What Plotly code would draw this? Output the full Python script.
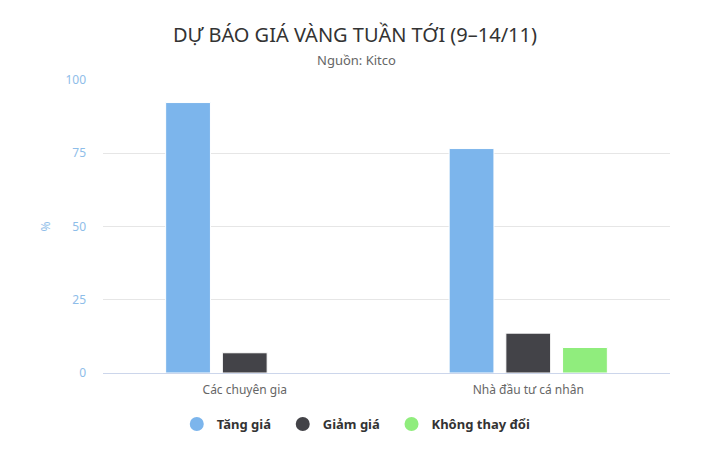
import plotly.graph_objects as go

categories = ["Các chuyên gia", "Nhà đầu tư cá nhân"]
series_names = ["Tăng giá", "Giảm giá", "Không thay đổi"]
tang_gia = [92.3, 76.6]
giam_gia = [6.9, 13.6]
khong_doi = [None, 8.7]
series_values = [tang_gia, giam_gia, khong_doi]
colors = ["#7cb5ec", "#434348", "#90ed7d"]
y_ticks = [0, 25, 50, 75, 100]

FONT = "Noto Sans"
PAD = "\u00a0" * 2

fig = go.Figure()
for name, vals, col in zip(series_names, series_values, colors):
    fig.add_trace(go.Bar(
        x=categories, y=vals, name=name, marker_color=col,
        marker_line_color="white", marker_line_width=1,
        showlegend=False, hoverinfo="y+name",
    ))
# legend entries with round markers
for name, col in zip(series_names, colors):
    fig.add_trace(go.Scatter(
        x=[None], y=[None], mode="markers", name=name + PAD,
        marker=dict(symbol="circle", size=14, color=col),
    ))

fig.update_layout(
    width=720, height=461,
    paper_bgcolor="white", plot_bgcolor="white",
    margin=dict(l=103, r=50, t=80, b=88, autoexpand=False),
    font=dict(family=FONT, color="#333333"),
    title=dict(
        text="DỰ BÁO GIÁ VÀNG TUẦN TỚI (9–14/11)",
        x=355 / 720, xanchor="center", y=1 - 35 / 461, yanchor="middle",
        font=dict(size=20, color="#333333", family=FONT),
    ),
    annotations=[dict(
        text="Nguồn: Kitco", xref="paper", yref="paper",
        x=(356 - 103) / 567, y=(373 - 60) / 293,
        xanchor="center", yanchor="middle",
        showarrow=False, font=dict(size=13, color="#666666", family=FONT),
    )],
    barmode="group", bargap=0.4, bargroupgap=0.21,
    legend=dict(
        orientation="h", x=0.452, xanchor="center", y=(373 - 424) / 293,
        yanchor="middle",
        font=dict(size=13, color="#333333", family=FONT, weight="bold"),
    ),
    showlegend=True,
)
fig.update_xaxes(
    type="category", showline=True, linecolor="#ccd6eb", linewidth=1,
    showgrid=False, ticks="", tickfont=dict(size=12, color="#666666"),
    ticklabelstandoff=6, automargin=False,
)
fig.update_yaxes(
    range=[0, 100], tickvals=y_ticks, showgrid=True, gridcolor="#e6e6e6",
    zeroline=False, tickfont=dict(size=12, color="#8ebde9"),
    title=dict(text="%", font=dict(size=12, color="#8ebde9"), standoff=12),
    ticklabelstandoff=16, automargin=False,
)

fig.write_html("out.html", config={"displayModeBar": False},
               post_script="document.body.style.margin='0';")
